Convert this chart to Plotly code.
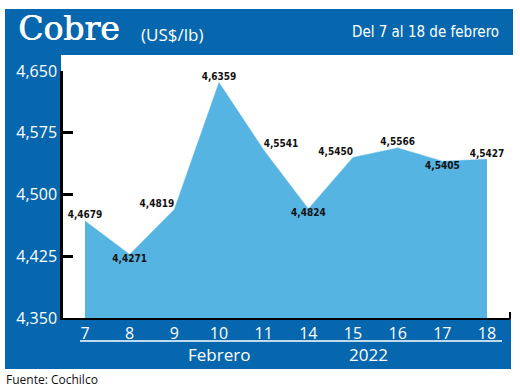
import plotly.graph_objects as go

# ---- data ----
days = ["7", "8", "9", "10", "11", "14", "15", "16", "17", "18"]
prices = [4.4679, 4.4271, 4.4819, 4.6359, 4.5541, 4.4824, 4.5450, 4.5566, 4.5405, 4.5427]
y_tickvals = [4.350, 4.425, 4.500, 4.575, 4.650]
y_ticktext = ["4,350", "4,425", "4,500", "4,575", "4,650"]
title_main = "Cobre"
title_unit = "(US$/lb)"
subtitle = "Del 7 al 18 de febrero"
month_label = "Febrero"
year_label = "2022"
source = "Fuente: Cochilco"

# ---- style ----
W, H = 520, 390
ML, MR, MT, MB = 63, 10, 71, 72
PW, PH = W - ML - MR, H - MT - MB
BLUE = "#0767ae"
FILL = "#56b4e3"
label_positions = ["top center", "bottom center", "top left", "top center", "top right",
                   "bottom center", "top left", "top center", "bottom center", "top center"]


def px(x):
    return (x - ML) / PW


def py(y):
    return (H - MB - y) / PH


labels = [f"{v:.4f}".replace(".", ",") for v in prices]

fig = go.Figure()
fig.add_trace(go.Scatter(
    x=days, y=prices, mode="lines+text", fill="tozeroy",
    fillcolor=FILL, line=dict(color=FILL, width=0.5),
    text=labels, textposition=label_positions,
    textfont=dict(family="Liberation Sans Narrow, DejaVu Sans Condensed, sans-serif",
                  size=10, color="#111111", weight="bold"),
    cliponaxis=False, hoverinfo="skip", showlegend=False,
))

shapes = [
    # title band
    dict(type="rect", xref="paper", yref="paper", x0=px(5), x1=px(513), y0=py(55), y1=py(9),
         fillcolor=BLUE, line=dict(width=0), layer="below"),
    # left column
    dict(type="rect", xref="paper", yref="paper", x0=px(5), x1=px(61), y0=py(369), y1=py(9),
         fillcolor=BLUE, line=dict(width=0), layer="below"),
    # bottom band
    dict(type="rect", xref="paper", yref="paper", x0=px(5), x1=px(511), y0=py(369), y1=py(319),
         fillcolor=BLUE, line=dict(width=0), layer="below"),
    # white separator line
    dict(type="line", xref="paper", yref="paper", x0=px(80), x1=px(502), y0=py(341), y1=py(341),
         line=dict(color="white", width=1.5)),
    # right end tick of baseline
    dict(type="line", xref="paper", yref="paper", x0=px(510), x1=px(510), y0=py(319), y1=py(312),
         line=dict(color="black", width=2)),
]

annotations = [
    dict(text=title_main, x=px(16), y=py(29), xref="paper", yref="paper", xanchor="left",
         yanchor="middle", showarrow=False,
         font=dict(family="DejaVu Serif, serif", size=33, color="white",
                   shadow="0.7px 0 0 white")),
    dict(text=title_unit, x=px(139), y=py(35), xref="paper", yref="paper", xanchor="left",
         yanchor="middle", showarrow=False,
         font=dict(family="Open Sans, sans-serif", size=17, color="white")),
    dict(text=subtitle, x=px(501), y=py(32), xref="paper", yref="paper", xanchor="right",
         yanchor="middle", showarrow=False,
         font=dict(family="Liberation Sans Narrow, DejaVu Sans Condensed, sans-serif",
                   size=15, color="white")),
    dict(text=month_label, x=px(219), y=py(354), xref="paper", yref="paper", xanchor="center",
         yanchor="middle", showarrow=False,
         font=dict(family="Open Sans, sans-serif", size=17, color="white")),
    dict(text=year_label, x=px(368), y=py(354), xref="paper", yref="paper", xanchor="center",
         yanchor="middle", showarrow=False,
         font=dict(family="Open Sans, sans-serif", size=17, color="white")),
    dict(text=source, x=px(4), y=py(379), xref="paper", yref="paper", xanchor="left",
         yanchor="middle", showarrow=False,
         font=dict(family="Open Sans, sans-serif", size=12, color="#111111")),
]

fig.update_layout(
    width=W, height=H,
    margin=dict(l=ML, r=MR, t=MT, b=MB, pad=0),
    paper_bgcolor="white", plot_bgcolor="white",
    shapes=shapes, annotations=annotations,
    xaxis=dict(type="category", range=[-0.4925, 9.515], tickmode="array",
               tickvals=days, ticktext=days, showgrid=False, zeroline=False,
               showline=True, linecolor="black", linewidth=2, layer="below traces",
               ticks="", tickfont=dict(family="Open Sans, sans-serif", size=16, color="white"),
               fixedrange=True),
    yaxis=dict(range=[4.35, 4.65], tickmode="array", tickvals=y_tickvals, ticktext=y_ticktext,
               showgrid=False, zeroline=False, showline=True, linecolor="black", linewidth=2.5,
               ticks="inside", ticklen=10, tickwidth=2.5, tickcolor="black",
               tickfont=dict(family="Open Sans, sans-serif", size=16, color="white"),
               fixedrange=True),
)

fig.write_html("out.html", config={"displayModeBar": False},
               post_script="document.body.style.margin='0';document.body.style.overflow='hidden';")
